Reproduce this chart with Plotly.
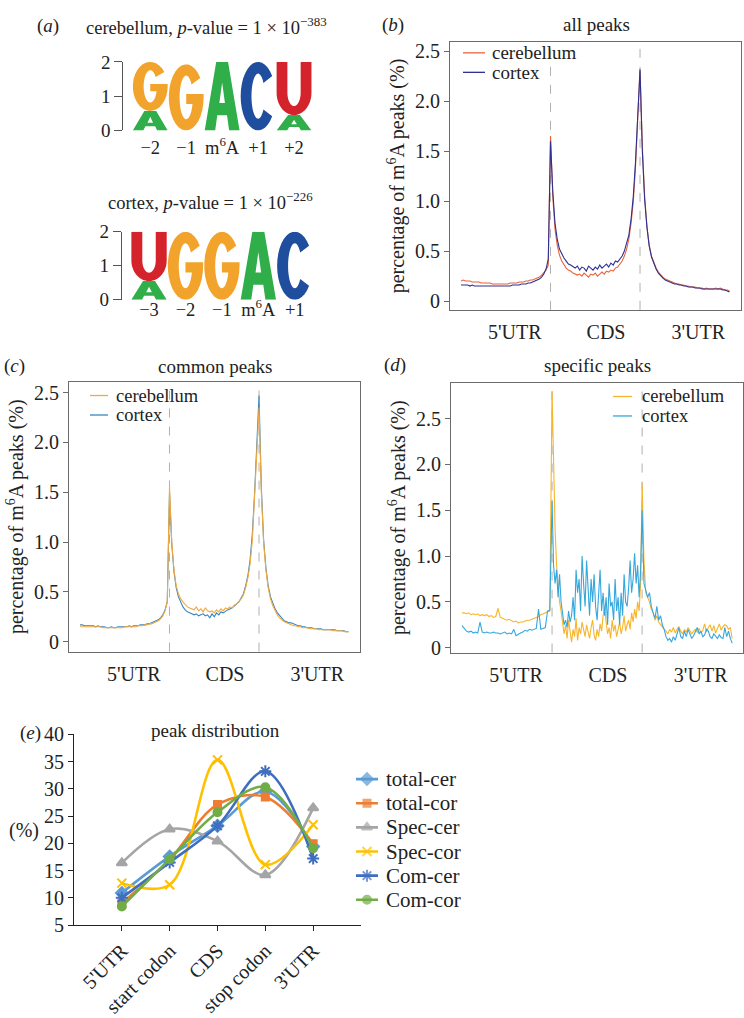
import math
import numpy as np
import plotly.graph_objects as go

W, H = 744, 1018
FONT = "Liberation Serif"


def px(x):
    return x / W


def py(y):
    return 1 - y / H


# ---------------------------------------------------------------- data
# (a) sequence logos: stacks from bottom (letter, bits)
logo1_title = "cerebellum, <i>p</i>-value = 1 × 10<sup>−383</sup>"
logo1_labels = ["−2", "−1", "m<sup>6</sup>A", "+1", "+2"]
logo1_stacks = [[("A", 0.57), ("G", 1.43)], [("G", 1.93)], [("A", 2.0)],
                [("C", 2.0)], [("A", 0.45), ("U", 1.55)]]
logo2_title = "cortex, <i>p</i>-value = 1 × 10<sup>−226</sup>"
logo2_labels = ["−3", "−2", "−1", "m<sup>6</sup>A", "+1"]
logo2_stacks = [[("A", 0.55), ("U", 1.45)], [("G", 2.0)], [("G", 2.0)],
                [("A", 2.0)], [("C", 2.0)]]

region_labels = ["5'UTR", "CDS", "3'UTR"]
series_names = ["cerebellum", "cortex"]

# (b) all peaks
b_cer_5utr = [0.20, 0.21, 0.20, 0.20, 0.20, 0.19, 0.19, 0.19, 0.19, 0.18,
              0.18, 0.18, 0.18, 0.18, 0.17, 0.17, 0.17, 0.17, 0.17, 0.17,
              0.17, 0.17, 0.18, 0.18, 0.18, 0.18, 0.19, 0.19, 0.19, 0.20,
              0.20, 0.21, 0.21, 0.22, 0.23, 0.24, 0.26, 0.28, 0.31, 0.36]
b_cer_cds = [1.65, 1.05, 0.72, 0.56, 0.46, 0.40, 0.36, 0.33, 0.31, 0.30,
             0.28, 0.27, 0.26, 0.27, 0.25, 0.28, 0.26, 0.24, 0.27, 0.26,
             0.28, 0.25, 0.27, 0.29, 0.27, 0.30, 0.29, 0.31, 0.30, 0.33,
             0.34, 0.37, 0.40, 0.45, 0.52, 0.62, 0.78, 1.00, 1.35, 1.85]
b_cer_3utr = [2.30, 1.55, 1.05, 0.75, 0.56, 0.45, 0.38, 0.33, 0.29, 0.26,
              0.24, 0.22, 0.21, 0.20, 0.19, 0.18, 0.17, 0.17, 0.16, 0.16,
              0.15, 0.15, 0.14, 0.14, 0.14, 0.13, 0.13, 0.13, 0.12, 0.13,
              0.12, 0.12, 0.12, 0.13, 0.12, 0.13, 0.12, 0.11, 0.11, 0.10]
b_cor_5utr = [0.16, 0.16, 0.16, 0.16, 0.15, 0.16, 0.15, 0.15, 0.15, 0.15,
              0.15, 0.15, 0.15, 0.15, 0.15, 0.15, 0.15, 0.15, 0.15, 0.15,
              0.15, 0.15, 0.15, 0.16, 0.16, 0.16, 0.16, 0.17, 0.17, 0.17,
              0.18, 0.18, 0.19, 0.20, 0.21, 0.22, 0.24, 0.27, 0.32, 0.42]
b_cor_cds = [1.60, 1.10, 0.78, 0.62, 0.52, 0.47, 0.43, 0.40, 0.37, 0.36,
             0.34, 0.33, 0.35, 0.31, 0.34, 0.33, 0.30, 0.35, 0.33, 0.31,
             0.34, 0.32, 0.36, 0.33, 0.35, 0.37, 0.34, 0.38, 0.36, 0.40,
             0.39, 0.42, 0.45, 0.50, 0.57, 0.66, 0.82, 1.05, 1.40, 1.90]
b_cor_3utr = [2.32, 1.50, 1.02, 0.74, 0.55, 0.44, 0.37, 0.32, 0.28, 0.25,
              0.23, 0.21, 0.20, 0.19, 0.18, 0.17, 0.17, 0.16, 0.16, 0.15,
              0.15, 0.14, 0.14, 0.14, 0.13, 0.13, 0.13, 0.12, 0.12, 0.12,
              0.12, 0.12, 0.12, 0.12, 0.12, 0.12, 0.11, 0.11, 0.10, 0.09]

# (c) common peaks
c_cer_5utr = [0.15, 0.15, 0.15, 0.15, 0.15, 0.15, 0.15, 0.15, 0.15, 0.15,
              0.14, 0.14, 0.14, 0.14, 0.14, 0.14, 0.14, 0.14, 0.14, 0.14,
              0.15, 0.15, 0.15, 0.15, 0.15, 0.15, 0.16, 0.16, 0.16, 0.17,
              0.17, 0.18, 0.18, 0.19, 0.20, 0.21, 0.23, 0.26, 0.31, 0.40]
c_cer_cds = [1.55, 1.00, 0.72, 0.56, 0.48, 0.43, 0.40, 0.37, 0.35, 0.34,
             0.33, 0.32, 0.35, 0.31, 0.33, 0.30, 0.34, 0.31, 0.30, 0.31,
             0.29, 0.32, 0.30, 0.33, 0.31, 0.34, 0.33, 0.35, 0.34, 0.37,
             0.38, 0.40, 0.43, 0.47, 0.54, 0.64, 0.78, 1.02, 1.40, 1.90]
c_cer_3utr = [2.35, 1.50, 1.00, 0.72, 0.54, 0.43, 0.36, 0.31, 0.27, 0.24,
              0.22, 0.20, 0.19, 0.18, 0.17, 0.16, 0.16, 0.15, 0.15, 0.14,
              0.14, 0.14, 0.13, 0.13, 0.13, 0.13, 0.12, 0.12, 0.12, 0.12,
              0.12, 0.12, 0.11, 0.11, 0.11, 0.11, 0.11, 0.10, 0.10, 0.10]
c_cor_5utr = [0.17, 0.17, 0.16, 0.16, 0.16, 0.16, 0.16, 0.15, 0.16, 0.15,
              0.15, 0.15, 0.14, 0.14, 0.15, 0.14, 0.14, 0.15, 0.15, 0.15,
              0.15, 0.15, 0.16, 0.15, 0.16, 0.16, 0.16, 0.17, 0.17, 0.17,
              0.18, 0.18, 0.19, 0.20, 0.21, 0.22, 0.24, 0.27, 0.32, 0.40]
c_cor_cds = [1.50, 0.98, 0.70, 0.54, 0.45, 0.39, 0.35, 0.32, 0.30, 0.29,
             0.28, 0.27, 0.28, 0.26, 0.27, 0.28, 0.26, 0.27, 0.24, 0.28,
             0.25, 0.29, 0.27, 0.30, 0.29, 0.31, 0.32, 0.33, 0.34, 0.36,
             0.38, 0.40, 0.44, 0.48, 0.56, 0.66, 0.82, 1.08, 1.48, 2.00]
c_cor_3utr = [2.47, 1.55, 1.02, 0.74, 0.56, 0.45, 0.38, 0.33, 0.29, 0.26,
              0.23, 0.21, 0.20, 0.19, 0.19, 0.18, 0.17, 0.16, 0.16, 0.15,
              0.15, 0.14, 0.14, 0.14, 0.13, 0.13, 0.13, 0.13, 0.12, 0.12,
              0.12, 0.12, 0.12, 0.12, 0.11, 0.11, 0.11, 0.11, 0.10, 0.10]

# (d) specific peaks
d_cer_5utr = [0.38, 0.38, 0.37, 0.38, 0.36, 0.37, 0.36, 0.37, 0.35, 0.36,
              0.35, 0.36, 0.34, 0.35, 0.33, 0.34, 0.43, 0.33, 0.32, 0.31,
              0.30, 0.31, 0.29, 0.28, 0.29, 0.27, 0.28, 0.28, 0.29, 0.30,
              0.30, 0.31, 0.32, 0.33, 0.34, 0.36, 0.37, 0.38, 0.39, 0.40]
d_cer_cds = [2.80, 2.00, 1.30, 0.90, 0.65, 0.50, 0.40, 0.28, 0.15, 0.25,
             0.10, 0.30, 0.18, 0.06, 0.20, 0.12, 0.32, 0.08, 0.22, 0.15,
             0.28, 0.20, 0.12, 0.25, 0.18, 0.10, 0.22, 0.30, 0.14, 0.08,
             0.20, 0.12, 0.26, 0.18, 0.35, 0.45, 0.28, 0.15, 0.22, 0.10,
             0.30, 0.18, 0.25, 0.12, 0.20, 0.28, 0.15, 0.22, 0.35, 0.18,
             0.25, 0.30, 0.20, 0.38, 0.28, 0.42, 0.32, 0.50, 0.40, 0.70]
d_cer_3utr = [1.80, 0.95, 0.60, 0.55, 0.50, 0.42, 0.38, 0.30, 0.35, 0.28,
              0.25, 0.22, 0.20, 0.18, 0.15, 0.20, 0.17, 0.22, 0.16, 0.20,
              0.23, 0.18, 0.15, 0.20, 0.17, 0.22, 0.19, 0.15, 0.18, 0.20,
              0.17, 0.21, 0.16, 0.19, 0.26, 0.17, 0.22, 0.25, 0.18, 0.24,
              0.16, 0.22, 0.26, 0.19, 0.23, 0.25, 0.24, 0.20, 0.22, 0.10]
d_cor_5utr = [0.24, 0.21, 0.18, 0.17, 0.18, 0.16, 0.17, 0.16, 0.28, 0.17,
              0.16, 0.17, 0.16, 0.16, 0.17, 0.16, 0.16, 0.15, 0.16, 0.17,
              0.15, 0.16, 0.15, 0.20, 0.13, 0.15, 0.16, 0.17, 0.19, 0.18,
              0.20, 0.19, 0.20, 0.21, 0.42, 0.20, 0.21, 0.22, 0.40, 0.41]
d_cor_cds = [1.60, 0.90, 0.70, 0.85, 0.55, 0.80, 0.50, 0.35, 0.25, 0.30,
             0.22, 0.40, 0.28, 0.35, 0.55, 0.30, 0.85, 0.60, 0.75, 0.40,
             1.00, 0.70, 0.45, 0.95, 0.55, 0.35, 0.75, 0.50, 0.80, 0.45,
             0.30, 0.65, 0.85, 0.40, 0.60, 0.35, 0.55, 0.25, 0.70, 0.45,
             0.50, 0.30, 0.75, 0.40, 0.55, 0.25, 0.60, 0.35, 0.80, 0.50,
             0.45, 0.65, 0.95, 0.60, 0.75, 1.03, 0.70, 0.90, 0.55, 0.85]
d_cor_3utr = [1.50, 0.70, 0.62, 0.55, 0.60, 0.45, 0.38, 0.32, 0.45, 0.30,
              0.35, 0.25, 0.20, 0.12, 0.08, 0.10, 0.06, 0.12, 0.08, 0.15,
              0.22, 0.12, 0.10, 0.18, 0.12, 0.20, 0.15, 0.10, 0.13, 0.18,
              0.22, 0.15, 0.18, 0.12, 0.14, 0.20, 0.18, 0.12, 0.10, 0.15,
              0.12, 0.10, 0.14, 0.11, 0.10, 0.22, 0.12, 0.18, 0.10, 0.05]

# (e) peak distribution (%)
e_categories = ["5'UTR", "start codon", "CDS", "stop codon", "3'UTR"]
e_total_cer = [10.9, 17.6, 23.2, 29.5, 19.4]
e_total_cor = [9.0, 17.0, 27.1, 28.5, 19.9]
e_spec_cer = [16.4, 22.6, 20.4, 14.2, 26.5]
e_spec_cor = [12.7, 12.4, 35.3, 16.1, 23.4]
e_com_cer = [10.0, 16.5, 23.2, 33.2, 17.2]
e_com_cor = [8.4, 17.1, 25.7, 30.3, 19.1]

# ---------------------------------------------------------------- helpers


def region_xy(parts):
    xs, ys = [], []
    for r, vals in enumerate(parts):
        xs.extend(np.linspace(r, r + 1, len(vals), endpoint=(r == len(parts) - 1)))
        ys.extend(vals)
    return xs, ys


def arc(cx, cy, rx, ry, a0, a1, n=28):
    pts = []
    for i in range(n + 1):
        a = math.radians(a0 + (a1 - a0) * i / n)
        pts.append((cx + rx * math.cos(a), cy + ry * math.sin(a)))
    return pts


TX, TY = 0.31, 0.17
G_BAR_LO, G_BAR_HI = 0.40, 0.55
G_IN_START = 360 + math.degrees(math.asin((G_BAR_LO - 0.5) / (0.5 - TY)))
GLYPHS = {
    "A": [[(0, 0), (0.33, 1), (0.67, 1), (1, 0), (0.70, 0), (0.64, 0.22), (0.36, 0.22), (0.30, 0)],
          [(0.42, 0.40), (0.58, 0.40), (0.50, 0.70)]],
    "C": [arc(.5, .5, .5, .5, 36, 324) + arc(.5, .5, .5 - TX, .5 - TY, 324, 36)],
    "G": [arc(.5, .5, .5, .5, 36, 360)
          + [(1.0, G_BAR_HI), (0.50, G_BAR_HI), (0.50, G_BAR_LO)]
          + arc(.5, .5, .5 - TX, .5 - TY, G_IN_START, 36)],
    "U": [[(0, 1), (0, 0.42)] + arc(.5, .42, .5, .42, 180, 360) + [(1, 1), (1 - TX, 1), (1 - TX, 0.42)]
          + arc(.5, .42, .5 - TX, .42 - TY, 360, 180) + [(TX, 0.42), (TX, 1)]],
}
LETTER_COLORS = {"A": "#2FAE4A", "C": "#1F4E9E", "G": "#F2A32C", "U": "#D5232C"}


def glyph_path(letter, col, y0, h, gap=0.015):
    parts = []
    for poly in GLYPHS[letter]:
        pts = [(col - 0.5 + gap + x * (1 - 2 * gap), y0 + y * h) for x, y in poly]
        parts.append("M " + " L ".join(f"{a:.4f},{b:.4f}" for a, b in pts) + " Z")
    return " ".join(parts)


shapes = []
annotations = []


def ann(text, x, y, size=19, xanchor="center"):
    annotations.append(dict(text=text, x=px(x), y=py(y), xref="paper", yref="paper",
                            xanchor=xanchor, yanchor="middle", showarrow=False,
                            font=dict(family=FONT, size=size, color="#222")))


def logo_shapes(stacks, xref, yref):
    for col, stack in enumerate(stacks):
        y0 = 0.0
        for letter, h in stack:
            shapes.append(dict(type="path", xref=xref, yref=yref,
                               path=glyph_path(letter, col, y0, h),
                               fillcolor=LETTER_COLORS[letter], line=dict(width=0)))
            y0 += h


def manual_legend(colors, x0, x1, xt, ys, size):
    for name, col, yy in zip(series_names, colors, ys):
        shapes.append(dict(type="line", xref="paper", yref="paper", x0=px(x0), x1=px(x1),
                           y0=py(yy), y1=py(yy), line=dict(color=col, width=1.3)))
        ann(name, xt, yy, size=size, xanchor="left")


fig = go.Figure()

# ---------------------------------------------------------------- (a)
logo_shapes(logo1_stacks, "x5", "y5")
logo_shapes(logo2_stacks, "x6", "y6")
for xa, ya in (("x5", "y5"), ("x6", "y6")):
    fig.add_trace(go.Scatter(x=[0, 4], y=[0, 2], xaxis=xa, yaxis=ya, mode="markers",
                             marker=dict(opacity=0), showlegend=False, hoverinfo="skip"))

# ---------------------------------------------------------------- (b)(c)(d)
panels = [
    ("x", "y", (b_cer_5utr, b_cer_cds, b_cer_3utr), (b_cor_5utr, b_cor_cds, b_cor_3utr),
     "#E8643A", "#2E3192", False, (463, 485, 490, (43, 63), 19)),
    ("x2", "y2", (c_cer_5utr, c_cer_cds, c_cer_3utr), (c_cor_5utr, c_cor_cds, c_cor_3utr),
     "#F4A93C", "#3A85BE", True, (90, 108, 114, (395, 415), 18.5)),
    ("x3", "y3", (d_cer_5utr, d_cer_cds, d_cer_3utr), (d_cor_5utr, d_cor_cds, d_cor_3utr),
     "#F7B52C", "#35A7DD", False, (613, 632, 640, (396, 416), 18.5)),
]
for xa, ya, cer, cor, ccer, ccor, cer_on_top, leg in panels:
    xcer, ycer = region_xy(cer)
    xcor, ycor = region_xy(cor)
    t_cer = go.Scatter(x=xcer, y=ycer, xaxis=xa, yaxis=ya, mode="lines", name=series_names[0],
                       line=dict(color=ccer, width=1.1), showlegend=False)
    t_cor = go.Scatter(x=xcor, y=ycor, xaxis=xa, yaxis=ya, mode="lines", name=series_names[1],
                       line=dict(color=ccor, width=1.1), showlegend=False)
    if cer_on_top:
        fig.add_trace(t_cor)
        fig.add_trace(t_cer)
    else:
        fig.add_trace(t_cer)
        fig.add_trace(t_cor)
    for xv in (1, 2):
        shapes.append(dict(type="line", xref=xa, yref=f"{ya} domain", x0=xv, x1=xv, y0=0, y1=1,
                           line=dict(color="#B0B0B0", width=1, dash="dash"), layer="below"))
    manual_legend((ccer, ccor), leg[0], leg[1], leg[2], leg[3], leg[4])

# ---------------------------------------------------------------- (e)
e_series = [
    ("total-cer", e_total_cer, "#5B9BD5", "diamond", 9),
    ("total-cor", e_total_cor, "#ED7D31", "square", 7),
    ("Spec-cer", e_spec_cer, "#A5A5A5", "triangle-up", 9),
    ("Spec-cor", e_spec_cor, "#FFC000", "x-thin-open", 9),
    ("Com-cer", e_com_cer, "#3F6EC0", "asterisk-open", 10),
    ("Com-cor", e_com_cor, "#70AD47", "circle", 8),
]
LEG_X0, LEG_X1, LEG_XT, LEG_Y0, LEG_DY = 356, 378, 384, 789, 24.8
for i, (name, vals, col, sym, size) in enumerate(e_series):
    mk = dict(symbol=sym, size=size, color=col, line=dict(color=col, width=2))
    fig.add_trace(go.Scatter(
        x=e_categories, y=vals, xaxis="x4", yaxis="y4", mode="lines+markers", name=name,
        line=dict(color=col, width=2.6, shape="spline", smoothing=1.0),
        marker=mk, showlegend=False))
    # legend entry drawn on a pixel-scaled helper axis
    yy = LEG_Y0 + i * LEG_DY
    fig.add_trace(go.Scatter(
        x=[LEG_X0, (LEG_X0 + LEG_X1) / 2, LEG_X1], y=[yy, yy, yy], xaxis="x7", yaxis="y7",
        mode="lines+markers", line=dict(color=col, width=2.6),
        marker=dict(symbol=sym, size=[0, size, 0], color=col, line=dict(color=col, width=2)),
        showlegend=False, hoverinfo="skip"))
    ann(name, LEG_XT, yy, size=21, xanchor="left")

# ---------------------------------------------------------------- layout
frame = dict(showline=True, mirror=True, linecolor="#6B6B6B", linewidth=1,
             showgrid=False, zeroline=False)
xcat = dict(tickmode="array", tickvals=[0.6, 1.62, 2.65], ticktext=region_labels, ticks="",
            tickfont=dict(size=20), ticklabelstandoff=4)
yfmt = dict(tickmode="array", tickvals=[0, 0.5, 1, 1.5, 2, 2.5],
            ticktext=["0", "0.5", "1.0", "1.5", "2.0", "2.5"], ticks="outside", ticklen=5,
            tickcolor="#6B6B6B", tickfont=dict(size=20),
            title=dict(text="percentage of m<sup>6</sup>A peaks (%)", font=dict(size=20), standoff=4))

logo_y = dict(range=[0, 2], tickmode="array", tickvals=[0, 1, 2], ticks="outside", ticklen=8,
              tickcolor="#555", showline=True, linecolor="#555", linewidth=1,
              showgrid=False, zeroline=False, tickfont=dict(size=19))
logo_x = dict(range=[-0.75, 4.5], tickmode="array", tickvals=[0, 1, 2, 3, 4], ticks="",
              showline=False, showgrid=False, zeroline=False, tickfont=dict(size=18.5))

fig.update_layout(
    width=W, height=H, margin=dict(l=0, r=0, t=0, b=0),
    paper_bgcolor="white", plot_bgcolor="rgba(0,0,0,0)",
    font=dict(family=FONT, size=19, color="#222"),
    showlegend=False,
    xaxis=dict(domain=[px(450), px(741)], range=[-0.123, 3.128], anchor="y", **frame, **xcat),
    yaxis=dict(domain=[py(307), py(32)], range=[-0.088, 2.59], anchor="x", **frame, **yfmt),
    xaxis2=dict(domain=[px(69), px(360)], range=[-0.123, 3.128], anchor="y2", **frame, **xcat),
    yaxis2=dict(domain=[py(658), py(381)], range=[-0.098, 2.607], anchor="x2", **frame, **yfmt),
    xaxis3=dict(domain=[px(451), px(743)], range=[-0.122, 3.12], anchor="y3", **frame, **xcat),
    yaxis3=dict(domain=[py(659), py(382)], range=[-0.053, 2.89], anchor="x3", **frame, **yfmt),
    xaxis4=dict(domain=[px(74), px(361)], type="category", range=[-1, 5], anchor="y4",
                showline=True, linecolor="#222", linewidth=1.2, ticks="outside", ticklen=5,
                tickcolor="#222", tickangle=-45, showgrid=False, zeroline=False,
                tickfont=dict(size=20)),
    yaxis4=dict(domain=[py(939), py(743)], range=[5, 40], dtick=5, anchor="x4",
                showline=True, linecolor="#222", linewidth=1.2, ticks="outside", ticklen=5,
                tickcolor="#222", showgrid=False, zeroline=False, tickfont=dict(size=20)),
    xaxis5=dict(domain=[px(123.3), px(312)], anchor="free", position=py(127),
                ticktext=logo1_labels, **logo_x),
    yaxis5=dict(domain=[py(122.7), py(52.3)], anchor="x5", **logo_y),
    xaxis6=dict(domain=[px(121.7), px(313)], anchor="free", position=py(293),
                ticktext=logo2_labels, **logo_x),
    yaxis6=dict(domain=[py(296.7), py(226.7)], anchor="x6", **logo_y),
    xaxis7=dict(domain=[px(350), px(390)], range=[350, 390], anchor="y7", visible=False,
                fixedrange=True),
    yaxis7=dict(domain=[py(930), py(775)], range=[930, 775], anchor="x7", visible=False,
                fixedrange=True),
)

# titles and panel letters
ann(logo1_title, 207, 15, size=18.5)
ann(logo2_title, 210, 195, size=18.5)
ann("(<i>a</i>)", 48, 15)
ann("(<i>b</i>)", 393, 14)
ann("all peaks", 596, 14)
ann("(<i>c</i>)", 14, 365)
ann("common peaks", 215, 365)
ann("(<i>d</i>)", 395, 364)
ann("specific peaks", 597, 364)
ann("(<i>e</i>)", 30, 742)
ann("peak distribution", 215, 739)
ann("(%)", 24, 842, size=20)

fig.update_layout(shapes=shapes, annotations=annotations)

fig.write_html("out.html", config={"displayModeBar": False},
               post_script="document.body.style.margin='0';")
